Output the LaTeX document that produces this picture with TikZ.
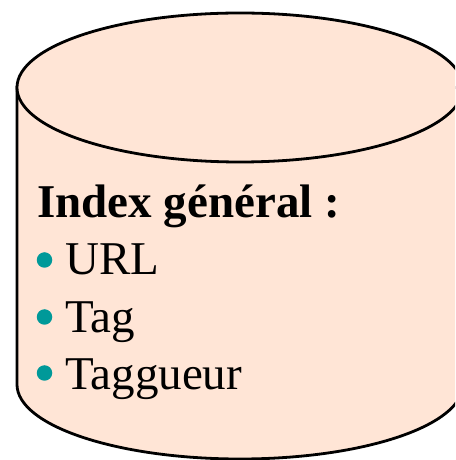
\documentclass[tikz,border=0pt]{standalone}
\usepackage{fontspec}
\setmainfont{Liberation Serif}
\usetikzlibrary{positioning}
\definecolor{peach}{RGB}{255,229,214}
\definecolor{dotteal}{RGB}{0,153,153}

\begin{document}
\begin{tikzpicture}[
    x=1pt, y=1pt,
    disk/.style={draw, line width=2.8pt, fill=peach},
    item/.style={anchor=base west, inner sep=0pt, font=\fontsize{47}{56}\selectfont},
    dot/.style={circle, fill=dotteal, inner sep=0pt, minimum size=15.5pt}
]
    \useasboundingbox (0,0) rectangle (455,460);
    \clip (0,0) rectangle (455,460);

    % Cylinder body and top
    \draw[disk] (17,372.5) -- (17,75.5)
        arc[start angle=180, end angle=360, x radius=223, y radius=74.5]
        -- (463,372.5) -- cycle;
    \draw[disk] (240,372.5) ellipse[x radius=223, y radius=74.5];

    % Texts
    \node[item] (title) at (37,242) {\textbf{Index général :}};
    \node[dot] (dot1) at (44.5,200) {};
    \node[item] (url) at (65,185) {URL};
    \node[dot] (dot2) at (44.5,143) {};
    \node[item] (tag) at (65,127) {Tag};
    \node[dot] (dot3) at (44.5,87) {};
    \node[item] (tagger) at (65,70) {Taggueur};
\end{tikzpicture}
\end{document}
